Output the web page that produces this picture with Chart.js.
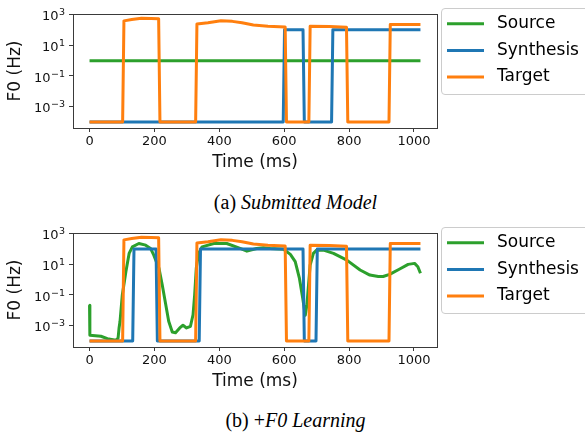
<!DOCTYPE html>
<html>
<head>
<meta charset="utf-8">
<script src="https://cdn.jsdelivr.net/npm/chart.js@4.4.1/dist/chart.umd.min.js"></script>
<style>
  body { margin: 0; background: #fff; }
  #page { position: relative; width: 585px; height: 432px; overflow: hidden; background: #fff; }
  canvas { position: absolute; left: 0; }
  #chartA { top: 0; }
  #chartB { top: 219px; }
  .cap { position: absolute; left: 0; width: 591px; text-align: center;
         font-family: "Liberation Serif", serif; font-size: 20px; line-height: 20px; color: #000; }
</style>
</head>
<body>
<div id="page">
  <canvas id="chartA" width="585" height="190"></canvas>
  <div class="cap" style="top:192px">(a) <i>Submitted Model</i></div>
  <canvas id="chartB" width="585" height="190"></canvas>
  <div class="cap" style="top:410px">(b) +<i>F0 Learning</i></div>
</div>
<script>
// tick positions / labels (y labels are 10^exponent)
const xTicks = [0, 200, 400, 600, 800, 1000];
const yTicks = [1e-3, 1e-1, 1e1, 1e3];
const yTickExps = ["\u22123", "\u22121", "1", "3"];

// target F0 (same in both panels), ms / Hz
const timeTarget = [0, 102, 106, 130, 160, 190, 213, 217, 327, 331, 365, 405, 440, 470, 505, 550, 603, 607,
  676, 680, 740, 792, 796, 923, 927, 1020];
const f0Target = [1e-4, 1e-4, 400, 490, 600, 570, 540, 1e-4, 1e-4, 245, 300, 400, 370, 300, 215, 180, 160, 1e-4,
  1e-4, 180, 170, 155, 1e-4, 1e-4, 230, 230];

// (a) submitted model
const timeSourceA = [0, 250, 500, 750, 1020];
const f0SourceA = [1, 1, 1, 1, 1];
const timeSynthA = [0, 597, 601, 658, 662, 746, 750, 1020];
const f0SynthA = [1e-4, 1e-4, 105, 105, 1e-4, 1e-4, 105, 105];

// (b) +F0 learning
const timeSourceB = [0, 1, 35, 55, 81, 88, 91, 94, 101, 112, 122, 132, 152, 173, 188, 198, 214, 224, 234, 244,
  255, 265, 278, 288, 299, 311, 319, 324, 329, 336, 347, 383, 423, 464, 485, 515, 536, 557, 598, 619,
  634, 647, 657, 665, 670, 675, 680, 690, 700, 721, 752, 793, 834, 864, 890, 905, 925, 956, 982, 1002,
  1012, 1020];
const f0SourceB = [0.021, 2.3e-4, 2e-4, 1.4e-4, 1.1e-4, 1.5e-4, 7e-4, 0.0019, 0.1, 3.3, 52, 140, 230, 180, 110, 40, 5.5, 0.46, 0.03, 0.0019,
  3.8e-4, 3.4e-4, 7e-4, 1.05e-3, 7e-4, 9e-4, 0.0051, 0.1, 5.5, 52, 140, 230, 230, 110, 73, 110, 120, 110, 98, 45,
  15, 1.2, 0.063, 0.0047, 0.023, 0.46, 9, 52, 85, 85, 52, 19, 4.3, 2.0, 1.6, 1.6, 2.2, 5, 10, 11.6,
  7, 2.6];
const timeSynthB = [0, 133, 137, 205, 209, 338, 342, 658, 662, 698, 702, 1020];
const f0SynthB = [1e-4, 1e-4, 100, 100, 1e-4, 1e-4, 100, 100, 1e-4, 1e-4, 100, 100];

const GREEN = "#2ca02c", BLUE = "#1f77b4", ORANGE = "#ff7f0e";
const FONT = "DejaVu Sans";

function pts(t, v) {
  return t.map((x, i) => ({ x: x, y: v[i] }));
}

// axes frame (all four spines)
const frame = {
  id: "frame",
  afterDatasetsDraw(chart) {
    const { ctx, chartArea: a } = chart;
    ctx.save();
    ctx.strokeStyle = "#3a3a3a";
    ctx.lineWidth = 1;
    ctx.strokeRect(a.left + 0.5, a.top + 0.5, a.right - a.left, a.bottom - a.top);
    ctx.restore();
  }
};

// "10" with a raised exponent, like matplotlib mathtext
const logLabels = {
  id: "logLabels",
  afterDraw(chart) {
    const { ctx, chartArea: a } = chart;
    const s = chart.scales.y;
    const xr = a.left - 8;
    ctx.save();
    ctx.fillStyle = "#111";
    ctx.textAlign = "left";
    ctx.textBaseline = "alphabetic";
    yTicks.forEach((v, i) => {
      const py = s.getPixelForValue(v);
      ctx.font = "9.5px '" + FONT + "'";
      const ew = ctx.measureText(yTickExps[i]).width;
      ctx.font = "13px '" + FONT + "'";
      const bw = ctx.measureText("10").width;
      ctx.fillText("10", xr - ew - bw - 0.5, py + 5.7);
      ctx.font = "9.5px '" + FONT + "'";
      ctx.fillText(yTickExps[i], xr - ew, py + 0.7);
    });
    ctx.restore();
  }
};

// matplotlib-like legend box to the right of the axes
const boxLegend = {
  id: "boxLegend",
  afterDraw(chart) {
    const { ctx, chartArea: a } = chart;
    const x0 = a.right + 4, y0 = a.top - 6, w = 160, h = 86, r = 3.5;
    ctx.save();
    ctx.beginPath();
    ctx.roundRect(x0 + 0.5, y0 + 0.5, w, h, r);
    ctx.fillStyle = "rgba(255,255,255,0.8)";
    ctx.fill();
    ctx.strokeStyle = "#cccccc";
    ctx.lineWidth = 1;
    ctx.stroke();
    chart.data.datasets.forEach((ds, i) => {
      const y = y0 + 15.8 + i * 26.6;
      ctx.beginPath();
      ctx.moveTo(x0 + 6, y);
      ctx.lineTo(x0 + 43, y);
      ctx.strokeStyle = ds.borderColor;
      ctx.lineWidth = 3;
      ctx.stroke();
      ctx.fillStyle = "#000";
      ctx.font = "17px '" + FONT + "'";
      ctx.textBaseline = "middle";
      ctx.fillText(ds.label, x0 + 56, y);
    });
    ctx.restore();
  }
};

function makeChart(id, source, synth, target) {
  const line = (label, data, color, order) => ({
    label: label, data: data, borderColor: color, backgroundColor: color,
    borderWidth: 3, pointRadius: 0, tension: 0, fill: false, order: order,
    borderJoinStyle: "round"
  });
  return new Chart(document.getElementById(id), {
    type: "line",
    data: {
      datasets: [
        line("Source", source, GREEN, 3),
        line("Synthesis", synth, BLUE, 2),
        line("Target", target, ORANGE, 1),
      ],
    },
    options: {
      responsive: false,
      animation: false,
      devicePixelRatio: 1,
      layout: { padding: { top: 14, right: 148, left: 0, bottom: 0 } },
      plugins: { legend: { display: false }, tooltip: { enabled: false } },
      scales: {
        x: {
          type: "linear",
          min: -51,
          max: 1071,
          bounds: "data",
          afterBuildTicks: (s) => { s.ticks = xTicks.map((v) => ({ value: v })); },
          afterFit: (s) => { s.height = 62; },
          border: { display: false },
          grid: { display: true, drawOnChartArea: false, drawTicks: true, tickLength: 4, color: "#3a3a3a" },
          ticks: { color: "#111", padding: 2, maxRotation: 0, font: { family: FONT, size: 13 },
                   callback: (v) => String(v) },
          title: { display: true, text: "Time (ms)", color: "#111", padding: { top: 0, bottom: 17 },
                   font: { family: FONT, size: 17 } },
        },
        y: {
          type: "logarithmic",
          min: Math.pow(10, -4.4),
          max: Math.pow(10, 3.05),
          afterBuildTicks: (s) => { s.ticks = yTicks.map((v) => ({ value: v })); },
          afterFit: (s) => { s.width = 73; },
          border: { display: false },
          grid: { display: true, drawOnChartArea: false, drawTicks: true, tickLength: 4, color: "#3a3a3a" },
          ticks: { padding: 1, font: { family: FONT, size: 13 }, callback: () => "" },
          title: { display: true, text: "F0 (Hz)", color: "#111", padding: { top: 5, bottom: 0 },
                   font: { family: FONT, size: 17 } },
        },
      },
    },
    plugins: [frame, logLabels, boxLegend],
  });
}

makeChart("chartA", pts(timeSourceA, f0SourceA), pts(timeSynthA, f0SynthA), pts(timeTarget, f0Target));
makeChart("chartB", pts(timeSourceB, f0SourceB), pts(timeSynthB, f0SynthB), pts(timeTarget, f0Target));
</script>
</body>
</html>
